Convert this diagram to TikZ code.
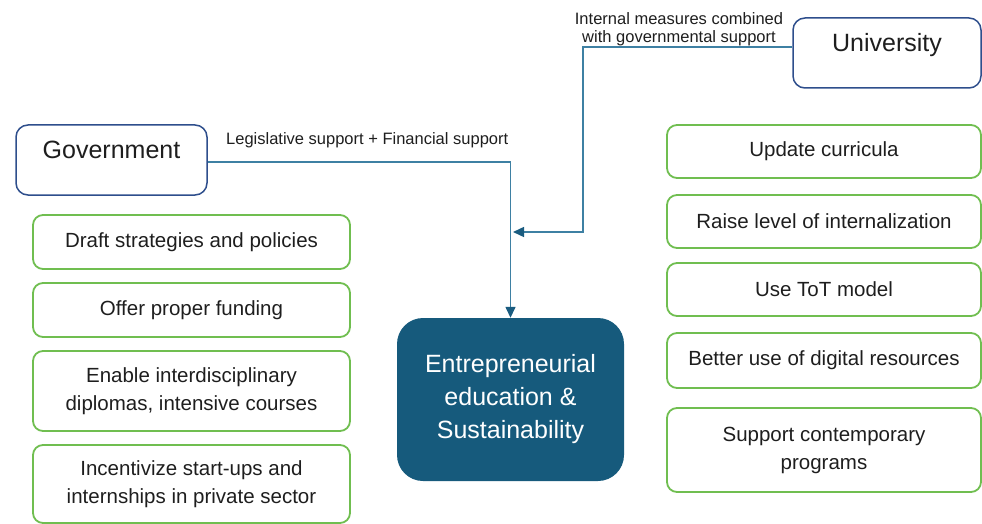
\documentclass[tikz,border=0pt]{standalone}
\usepackage{fontspec}
\setmainfont{Liberation Sans}
\usetikzlibrary{arrows.meta}
\definecolor{actorblue}{RGB}{46,78,140}
\definecolor{itemgreen}{RGB}{112,190,80}
\definecolor{corefill}{RGB}{22,90,124}
\definecolor{linkblue}{RGB}{62,128,163}
\definecolor{tipblue}{RGB}{26,92,128}
\definecolor{ink}{RGB}{30,30,30}
\tikzset{
  actor/.style={draw=actorblue, line width=1.5pt, rounded corners=12pt, fill=white},
  item/.style={draw=itemgreen, line width=1.8pt, rounded corners=10pt, align=center,
    font=\fontsize{20.5}{28}\selectfont, text=ink, inner sep=0pt},
  core/.style={fill=corefill, rounded corners=26pt, align=center, text=white,
    font=\fontsize{25}{33}\selectfont, inner sep=0pt},
  link/.style={draw=linkblue, line width=1.4pt,
    -{Triangle[length=11pt,width=10pt,fill=tipblue,color=tipblue]}},
  linklabel/.style={font=\fontsize{16.5}{18}\selectfont, text=ink, align=center, inner sep=0pt}
}
\begin{document}
\begin{tikzpicture}[x=1pt,y=-1pt]
\useasboundingbox (0,0) rectangle (982,524);

% actors
\node[actor, minimum width=191pt, minimum height=70pt,
  label={[anchor=north, yshift=-13pt, font=\fontsize{25}{30}\selectfont, text=ink]north:Government}]
  (gov) at (111.5,160) {};
\node[actor, minimum width=188pt, minimum height=70pt,
  label={[anchor=north, yshift=-13pt, font=\fontsize{25}{30}\selectfont, text=ink]north:University}]
  (uni) at (887,53) {};

% central goal
\node[core, minimum width=227pt, minimum height=163pt] (core) at (510.5,399.5)
  {Entrepreneurial\\education \&\\Sustainability};

% government measures
\node[item, minimum width=317pt, minimum height=54pt] (g1) at (191.5,242) {Draft strategies and policies};
\node[item, minimum width=317pt, minimum height=54pt] (g2) at (191.5,310) {Offer proper funding};
\node[item, minimum width=317pt, minimum height=80pt] (g3) at (191.5,391) {Enable interdisciplinary\\diplomas, intensive courses};
\node[item, minimum width=317pt, minimum height=78pt] (g4) at (191.5,484) {Incentivize start-ups and\\internships in private sector};

% university measures
\node[item, minimum width=314pt, minimum height=53pt] (u1) at (824,151.5) {Update curricula};
\node[item, minimum width=314pt, minimum height=53pt] (u2) at (824,221.5) {Raise level of internalization};
\node[item, minimum width=314pt, minimum height=53pt] (u3) at (824,289.5) {Use ToT model};
\node[item, minimum width=314pt, minimum height=55pt] (u4) at (824,360.5) {Better use of digital resources};
\node[item, minimum width=314pt, minimum height=84pt] (u5) at (824,450) {Support contemporary\\programs};

% connectors
\draw[link] ([yshift=-2pt]gov.east) -| (core.north);
\node[linklabel, anchor=south west] (glab) at (226,148) {Legislative support + Financial support};

\coordinate (ubend) at (583,232);
\coordinate (ujoin) at (513,232);
\draw[link] ([yshift=6pt]uni.west) -| (ubend) -- (ujoin);
\node[linklabel, anchor=south] (ulab) at (679,46) {Internal measures combined\\with governmental support};
\end{tikzpicture}
\end{document}
